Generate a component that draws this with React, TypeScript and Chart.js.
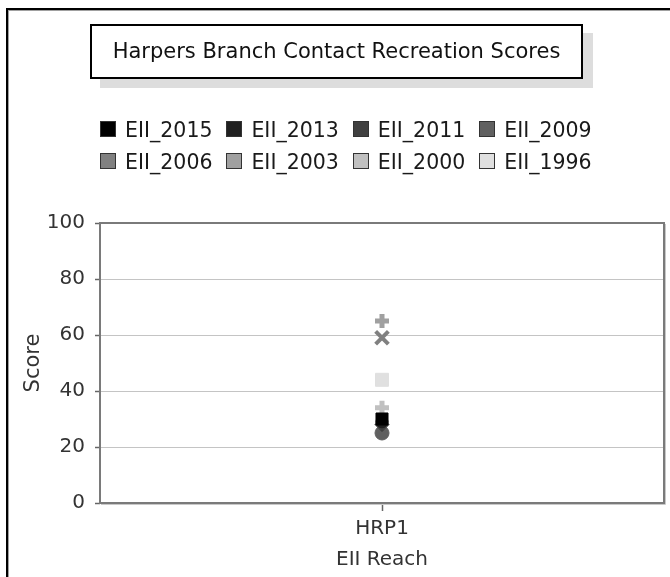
import { useEffect, useRef } from 'react';
import { Chart, registerables } from 'chart.js';

Chart.register(...registerables);

// ---------- data ----------
const categories = ['HRP1'];
const seriesNames = ['EII_2015', 'EII_2013', 'EII_2011', 'EII_2009', 'EII_2006', 'EII_2003', 'EII_2000', 'EII_1996'];
const eii2015 = [30];
const eii2013 = [29];
const eii2011 = [28];
const eii2009 = [25];
const eii2006 = [59];
const eii2003 = [65];
const eii2000 = [34];
const eii1996 = [44];
const seriesValues = [eii2015, eii2013, eii2011, eii2009, eii2006, eii2003, eii2000, eii1996];
const yTicks = [0, 20, 40, 60, 80, 100];
const chartTitle = 'Harpers Branch Contact Recreation Scores';
const xTitle = 'EII Reach';
const yTitle = 'Score';

// ---------- styles ----------
const seriesColors = ['#000000', '#202020', '#404040', '#606060', '#808080', '#a0a0a0', '#c0c0c0', '#e0e0e0'];
const seriesShapes = ['rect', 'circle', 'rectRot', 'circle', 'crossRot', 'cross', 'cross', 'rect'];
const seriesRadius = [8.5, 6, 7, 7, 9, 7, 7, 9.2];
const seriesBorder = [1, 1, 1, 1, 4, 5, 5, 1];
const FONT = '"DejaVu Sans", "Liberation Sans", sans-serif';

const headerPlugin = {
  id: 'header',
  afterDraw(chart: any) {
    const ctx = chart.ctx as CanvasRenderingContext2D;
    ctx.save();
    // title box with shadow
    ctx.fillStyle = '#dddddd';
    ctx.fillRect(100, 33, 493, 55);
    ctx.fillStyle = '#ffffff';
    ctx.fillRect(90, 24, 493, 55);
    ctx.strokeStyle = '#000000';
    ctx.lineWidth = 2;
    ctx.strokeRect(91, 25, 491, 53);
    ctx.font = `21px ${FONT}`;
    ctx.fillStyle = '#111111';
    ctx.textAlign = 'center';
    ctx.textBaseline = 'alphabetic';
    ctx.fillText(chartTitle, 336.5, 57.5);

    // legend
    ctx.textAlign = 'left';
    ctx.font = `20.5px ${FONT}`;
    chart.data.datasets.forEach((ds: any, i: number) => {
      const col = i % 4;
      const row = Math.floor(i / 4);
      const x = 100 + col * 126.4;
      const top = 121 + row * 32;
      ctx.fillStyle = ds.backgroundColor;
      ctx.fillRect(Math.round(x) + 0.5, top + 0.5, 15, 15);
      ctx.strokeStyle = '#333333';
      ctx.lineWidth = 1;
      ctx.strokeRect(Math.round(x) + 0.5, top + 0.5, 15, 15);
      ctx.fillStyle = '#1a1a1a';
      ctx.fillText(ds.label, x + 25, top + 16);
    });
    ctx.restore();
  },
};

const framePlugin = {
  id: 'frame',
  beforeDatasetsDraw(chart: any) {
    const ctx = chart.ctx as CanvasRenderingContext2D;
    const a = chart.chartArea;
    ctx.save();
    ctx.strokeStyle = '#c8c8c8';
    ctx.lineWidth = 1;
    ctx.beginPath();
    ctx.moveTo(a.right + 1.5, a.top + 1);
    ctx.lineTo(a.right + 1.5, a.bottom + 1.5);
    ctx.lineTo(a.left + 1, a.bottom + 1.5);
    ctx.stroke();
    ctx.strokeStyle = '#7a7a7a';
    ctx.lineWidth = 2;
    ctx.strokeRect(a.left, a.top, a.right - a.left, a.bottom - a.top);
    ctx.restore();
  },
};

export default function App() {
  const ref = useRef<HTMLCanvasElement | null>(null);

  useEffect(() => {
    if (!ref.current) return;
    const chart = new Chart(ref.current, {
      type: 'line',
      data: {
        labels: categories,
        datasets: seriesNames.map((name, i) => ({
          label: name,
          data: seriesValues[i],
          showLine: false,
          backgroundColor: seriesColors[i],
          borderColor: seriesColors[i],
          pointBackgroundColor: seriesColors[i],
          pointBorderColor: seriesColors[i],
          pointStyle: seriesShapes[i] as any,
          pointRadius: seriesRadius[i],
          pointHoverRadius: seriesRadius[i],
          pointBorderWidth: seriesBorder[i],
        })),
      },
      options: {
        responsive: false,
        animation: false,
        events: [],
        layout: { autoPadding: false, padding: { left: 0, right: 6, top: 223, bottom: 0 } },
        plugins: {
          legend: { display: false },
          title: { display: false },
          tooltip: { enabled: false },
        },
        scales: {
          x: {
            type: 'category',
            offset: true,
            afterFit: (s: any) => { s.height = 74; s.paddingLeft = 0; s.paddingRight = 0; },
            grid: { drawOnChartArea: false, drawTicks: true, tickLength: 8, tickColor: '#666666', tickWidth: 1.5, offset: false },
            border: { display: false },
            ticks: { font: { family: FONT, size: 20 }, color: '#333333', padding: 6, maxRotation: 0 },
            title: { display: true, text: xTitle, font: { family: FONT, size: 20 }, color: '#333333', padding: { top: 0, bottom: 5 } },
          },
          y: {
            min: 0,
            max: 100,
            afterFit: (s: any) => { s.width = 100; },
            afterBuildTicks: (s: any) => { s.ticks = yTicks.map((v) => ({ value: v })); },
            grid: { color: '#c4c4c4', lineWidth: 1, tickLength: 5, tickColor: '#666666', tickWidth: 1.5 },
            border: { display: false },
            ticks: { font: { family: FONT, size: 20 }, color: '#333333', padding: 10 },
            title: { display: true, text: yTitle, font: { family: FONT, size: 21 }, color: '#333333', padding: { top: 21, bottom: 0 } },
          },
        },
      },
      plugins: [framePlugin, headerPlugin],
    });
    return () => chart.destroy();
  }, []);

  return (
    <div style={{ position: 'fixed', left: 0, top: 0, width: 670, height: 577, overflow: 'hidden', background: '#fff' }}>
      <div
        style={{
          position: 'absolute', left: 6, top: 8, width: 700, height: 600,
          borderLeft: '2px solid #000', borderTop: '2px solid #000',
          boxShadow: 'inset 1px 1px 0 #a0a0a0', pointerEvents: 'none',
        }}
      />
      <canvas ref={ref} width={670} height={577} style={{ position: 'absolute', left: 0, top: 0, width: 670, height: 577 }} />
    </div>
  );
}
